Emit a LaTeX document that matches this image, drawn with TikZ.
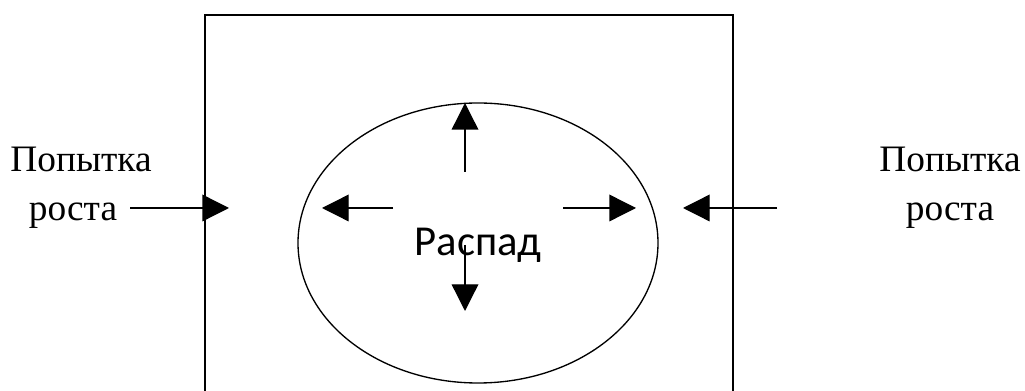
\documentclass[tikz,border=0pt]{standalone}
\usepackage{fontspec}
\setmainfont{Liberation Serif}
\newfontfamily\labelfont{Carlito}
\usetikzlibrary{arrows.meta,positioning,shapes.geometric}

\tikzset{
  push/.style={line width=1pt, -{Triangle[length=20pt,width=20pt]}},
  word/.style={font=\fontsize{28}{37}\selectfont, align=center}
}

\begin{document}
\begin{tikzpicture}[x=0.75pt, y=-0.75pt]
  \useasboundingbox (0,0) rectangle (1025,391);
  % cell wall, open at the bottom
  \draw[line width=1pt] (205,391) -- (205,15) -- (733,15) -- (733,391);
  % core
  \node[draw, line width=1pt, ellipse, minimum width=270pt, minimum height=210pt, inner sep=0pt] (core) at (478,243) {};
  \node[font=\labelfont\fontsize{32}{36}\selectfont] (decay) at (478,245) {Распад};
  % labels
  \node[word] (growL) at (81,188) {Попытка\\роста\hspace*{12pt}};
  \node[word] (growR) at (950,188) {Попытка\\роста};
  % arrows
  \coordinate (lfrom) at (130,208);
  \coordinate (lto) at (229,208);
  \coordinate (rfrom) at (777,208);
  \coordinate (rto) at (683,208);
  \coordinate (upfrom) at (465,172);
  \coordinate (upto) at (465,103);
  \coordinate (dnfrom) at (465,245);
  \coordinate (dnto) at (465,311);
  \coordinate (wfrom) at (393,208);
  \coordinate (wto) at (322,208);
  \coordinate (efrom) at (563,208);
  \coordinate (eto) at (636,208);
  \foreach \a in {l,r,up,dn,w,e}
    \draw[push] (\a from) -- (\a to);
\end{tikzpicture}
\end{document}
